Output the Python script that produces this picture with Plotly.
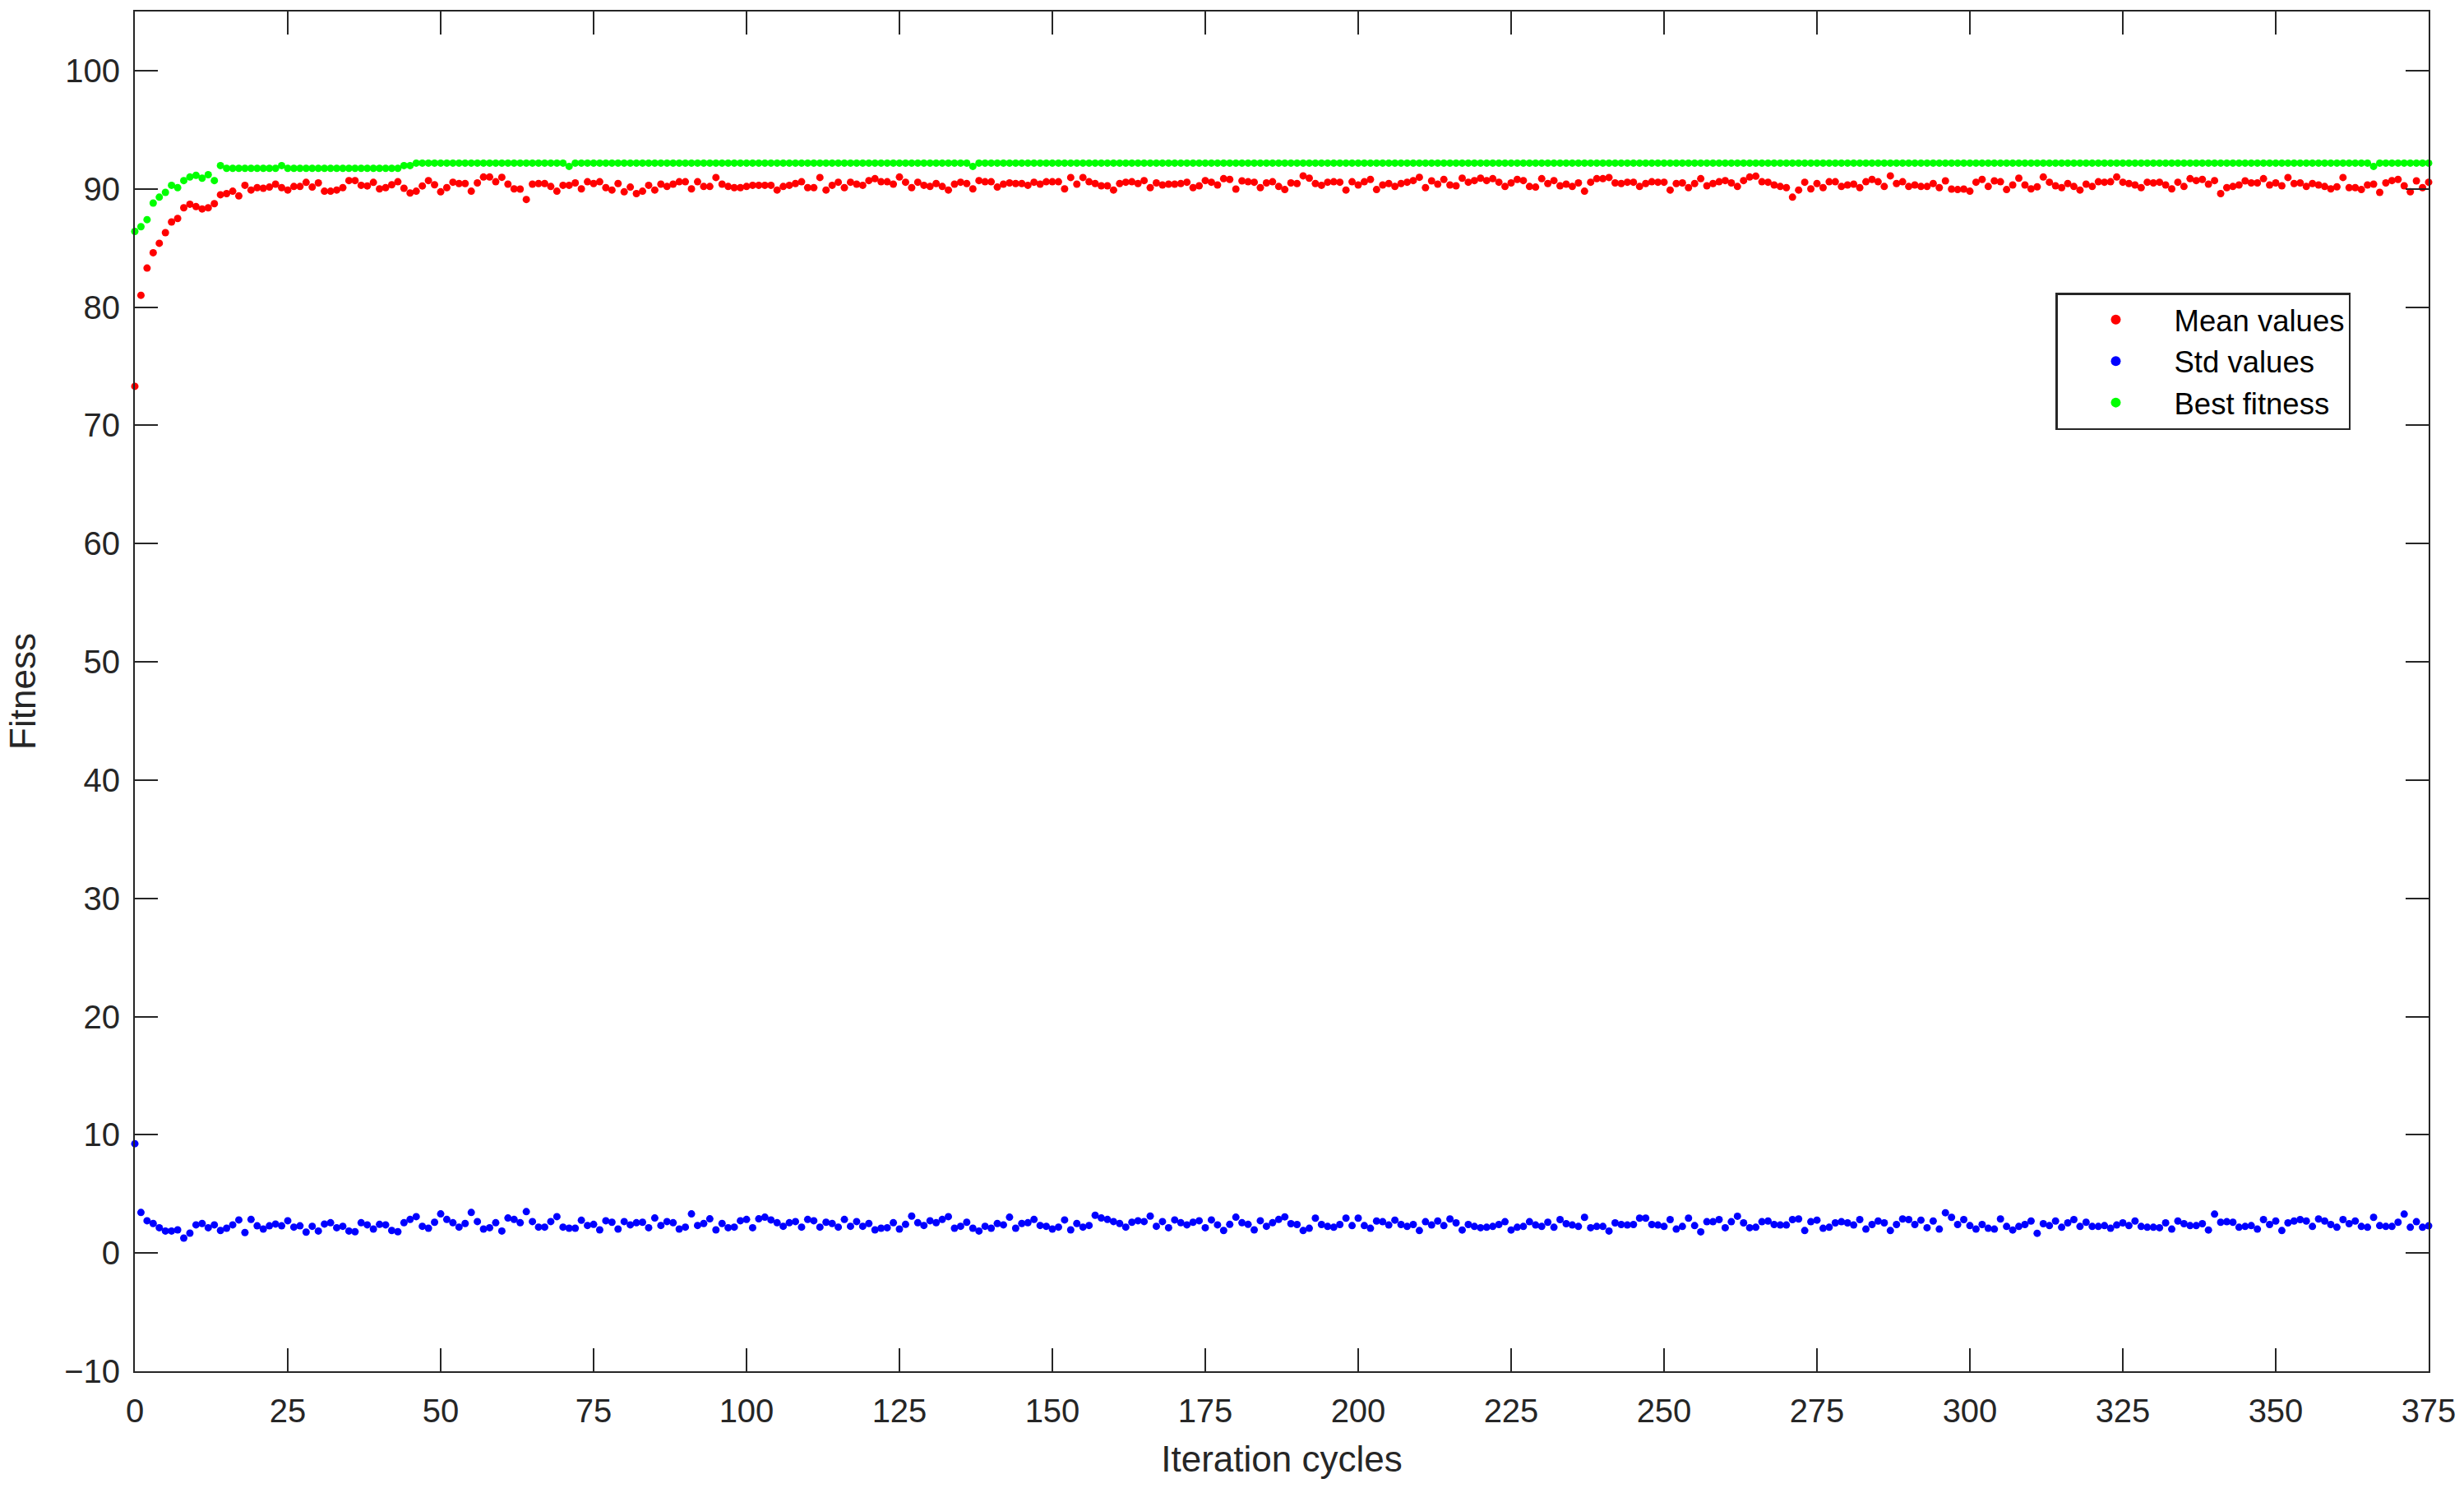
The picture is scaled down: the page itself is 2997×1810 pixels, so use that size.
import plotly.graph_objects as go

# ---------------- data ----------------
mean_values = [
    # 0-50
    73.3, 81.0, 83.3, 84.6, 85.4, 86.3, 87.2, 87.5, 88.4, 88.7,
    88.5, 88.3, 88.4, 88.75, 89.5, 89.6, 89.8, 89.4, 90.3, 89.9,
    90.1, 90.05, 90.15, 90.4, 90.1, 89.9, 90.2, 90.2, 90.55, 90.15,
    90.5, 89.8, 89.8, 89.9, 90.1, 90.7, 90.7, 90.3, 90.25, 90.55,
    90.0, 90.1, 90.35, 90.6, 90.05, 89.65, 89.8, 90.25, 90.7, 90.35,
    89.75,
    # 51-157
    90.1, 90.56, 90.45, 90.45, 89.8, 90.5, 91.0, 91.0, 90.6, 90.98,
    90.4, 90.0, 89.98, 89.1, 90.4, 90.45, 90.45, 90.2, 89.8, 90.3,
    90.3, 90.5, 90.0, 90.6, 90.45, 90.6, 90.1, 89.9, 90.45, 89.75,
    90.15, 89.6, 89.8, 90.3, 89.9, 90.4, 90.2, 90.4, 90.6, 90.6,
    90.0, 90.6, 90.2, 90.2, 90.96, 90.4, 90.2, 90.1, 90.1, 90.2,
    90.3, 90.3, 90.3, 90.3, 89.9, 90.2, 90.3, 90.45, 90.6, 90.1,
    90.1, 90.96, 89.9, 90.3, 90.56, 90.1, 90.56, 90.4, 90.3, 90.7,
    90.86, 90.6, 90.6, 90.4, 91.0, 90.56, 90.1, 90.56, 90.3, 90.2,
    90.45, 90.2, 89.9, 90.4, 90.56, 90.45, 90.0, 90.7, 90.6, 90.6,
    90.15, 90.4, 90.5, 90.45, 90.45, 90.3, 90.56, 90.4, 90.6, 90.6,
    90.6, 90.0, 90.96, 90.4, 90.96, 90.6, 90.45,
    # 158-266
    90.26, 90.26, 89.9, 90.45, 90.56, 90.6, 90.45, 90.7, 90.1, 90.5,
    90.33, 90.4, 90.4, 90.45, 90.56, 90.1, 90.26, 90.7, 90.56, 90.33,
    90.86, 90.8, 89.98, 90.68, 90.6, 90.56, 90.1, 90.5, 90.6, 90.2,
    89.94, 90.5, 90.45, 91.1, 90.9, 90.45, 90.3, 90.56, 90.6, 90.56,
    89.9, 90.6, 90.33, 90.6, 90.8, 89.94, 90.33, 90.45, 90.2, 90.45,
    90.56, 90.7, 90.98, 90.1, 90.68, 90.4, 90.8, 90.33, 90.26, 90.9,
    90.56, 90.7, 90.9, 90.7, 90.86, 90.56, 90.2, 90.5, 90.8, 90.7,
    90.2, 90.15, 90.86, 90.45, 90.7, 90.26, 90.4, 90.2, 90.5, 89.8,
    90.56, 90.86, 90.86, 90.96, 90.5, 90.45, 90.56, 90.56, 90.2, 90.45,
    90.6, 90.56, 90.56, 89.9, 90.45, 90.5, 90.1, 90.45, 90.86, 90.26,
    90.45, 90.6, 90.7, 90.5, 90.2, 90.7, 91.0, 91.07, 90.6,
    # 267-375
    90.56, 90.33, 90.2, 90.1, 89.3, 89.9, 90.56, 90.0, 90.45, 90.1,
    90.6, 90.6, 90.2, 90.33, 90.4, 90.1, 90.6, 90.8, 90.6, 90.2,
    91.1, 90.45, 90.6, 90.2, 90.33, 90.2, 90.2, 90.45, 90.1, 90.68,
    89.98, 89.94, 89.98, 89.8, 90.56, 90.8, 90.2, 90.68, 90.6, 89.94,
    90.33, 90.9, 90.33, 90.0, 90.17, 91.0, 90.56, 90.26, 90.1, 90.45,
    90.2, 89.9, 90.4, 90.2, 90.6, 90.56, 90.6, 91.0, 90.56, 90.45,
    90.33, 90.1, 90.56, 90.5, 90.56, 90.33, 90.0, 90.56, 90.2, 90.86,
    90.7, 90.8, 90.4, 90.7, 89.6, 90.1, 90.2, 90.33, 90.68, 90.5,
    90.5, 90.86, 90.33, 90.5, 90.26, 90.96, 90.45, 90.5, 90.2, 90.45,
    90.33, 90.2, 90.0, 90.17, 90.96, 90.1, 90.1, 89.94, 90.33, 90.4,
    89.7, 90.5, 90.7, 90.8, 90.26, 89.75, 90.68, 90.1, 90.56,
]

std_values = [
    # 0-187
    9.25, 3.43, 2.73, 2.5, 2.14, 1.86, 1.86, 1.96, 1.26, 1.68,
    2.38, 2.5, 2.14, 2.38, 1.91, 2.1, 2.38, 2.8, 1.73, 2.84,
    2.3, 2.03, 2.3, 2.45, 2.3, 2.73, 2.19, 2.3, 1.77, 2.26,
    1.86, 2.45, 2.56, 2.14, 2.26, 1.86, 1.8, 2.56, 2.38, 2.03,
    2.42, 2.38, 1.91, 1.8, 2.56, 2.84, 3.08, 2.26, 2.1, 2.6,
    3.31, 2.84, 2.56, 2.19, 2.5, 3.43, 2.66, 2.03, 2.14, 2.56,
    1.86, 2.96, 2.84, 2.56, 3.5, 2.66, 2.19, 2.19, 2.66, 3.08,
    2.19, 2.1, 2.1, 2.77, 2.33, 2.42, 1.96, 2.73, 2.6, 2.03,
    2.66, 2.38, 2.56, 2.6, 2.14, 2.96, 2.33, 2.66, 2.56, 2.03,
    2.19, 3.31, 2.33, 2.5, 2.89, 1.96, 2.5, 2.14, 2.19, 2.73,
    2.84, 2.14, 2.89, 3.03, 2.8, 2.56, 2.26, 2.56, 2.66, 2.19,
    2.84, 2.73, 2.19, 2.6, 2.5, 2.19, 2.84, 2.26, 2.66, 2.26,
    2.5, 1.96, 2.1, 2.14, 2.56, 2.03, 2.42, 3.12, 2.56, 2.33,
    2.73, 2.56, 2.84, 3.08, 2.1, 2.26, 2.6, 2.1, 1.86, 2.26,
    2.1, 2.5, 2.38, 3.03, 2.1, 2.5, 2.56, 2.84, 2.33, 2.26,
    2.03, 2.19, 2.8, 1.96, 2.5, 2.19, 2.33, 3.19, 2.96, 2.84,
    2.66, 2.5, 2.19, 2.6, 2.73, 2.66, 3.12, 2.26, 2.66, 2.14,
    2.8, 2.56, 2.38, 2.6, 2.73, 2.14, 2.8, 2.38, 1.91, 2.42,
    3.03, 2.56, 2.42, 1.96, 2.73, 2.26, 2.56, 2.84,
    # 188-375
    3.06, 2.48, 2.41, 1.9, 2.09, 2.95, 2.41, 2.25, 2.18, 2.41,
    2.95, 2.32, 2.95, 2.32, 2.09, 2.71, 2.65, 2.37, 2.78, 2.41,
    2.25, 2.41, 1.9, 2.65, 2.37, 2.71, 2.32, 2.88, 2.55, 1.95,
    2.41, 2.25, 2.14, 2.18, 2.25, 2.41, 2.65, 1.95, 2.18, 2.25,
    2.65, 2.37, 2.25, 2.6, 2.18, 2.83, 2.48, 2.37, 2.25, 3.02,
    2.14, 2.25, 2.25, 1.86, 2.55, 2.41, 2.37, 2.41, 2.95, 2.95,
    2.41, 2.37, 2.25, 2.83, 2.02, 2.25, 2.95, 2.32, 1.79, 2.65,
    2.65, 2.83, 2.14, 2.65, 3.11, 2.55, 2.14, 2.18, 2.65, 2.71,
    2.41, 2.37, 2.37, 2.83, 2.88, 1.9, 2.65, 2.78, 2.09, 2.18,
    2.55, 2.65, 2.55, 2.37, 2.83, 2.02, 2.41, 2.71, 2.55, 1.9,
    2.41, 2.88, 2.83, 2.41, 2.78, 2.14, 2.71, 2.02, 3.41, 3.02,
    2.41, 2.83, 2.32, 2.02, 2.41, 2.09, 2.02, 2.88, 2.25, 1.95,
    2.25, 2.41, 2.71, 1.67, 2.48, 2.32, 2.71, 2.18, 2.55, 2.83,
    2.25, 2.6, 2.25, 2.25, 2.32, 2.09, 2.37, 2.55, 2.32, 2.71,
    2.25, 2.18, 2.18, 2.14, 2.55, 2.02, 2.71, 2.48, 2.32, 2.32,
    2.48, 1.95, 3.29, 2.6, 2.65, 2.6, 2.18, 2.25, 2.32, 2.02,
    2.83, 2.41, 2.71, 1.9, 2.55, 2.71, 2.83, 2.71, 2.25, 2.88,
    2.71, 2.41, 2.18, 2.83, 2.48, 2.71, 2.25, 2.18, 3.02, 2.32,
    2.25, 2.25, 2.6, 3.29, 2.18, 2.65, 2.18, 2.3,
]

best_fitness = [
    # 0-49
    86.4, 86.8, 87.4, 88.8, 89.3, 89.7, 90.3, 90.1, 90.7, 91.0,
    91.15, 90.9, 91.2, 90.7, 91.97, 91.74, 91.74, 91.74, 91.74, 91.74,
    91.74, 91.74, 91.74, 91.74, 91.97, 91.74, 91.74, 91.74, 91.74, 91.74,
    91.74, 91.74, 91.74, 91.74, 91.74, 91.74, 91.74, 91.74, 91.74, 91.74,
    91.74, 91.74, 91.74, 91.74, 91.97, 91.97, 92.18, 92.18, 92.18, 92.18,
    # 50-99
    92.18, 92.18, 92.18, 92.18, 92.18, 92.18, 92.18, 92.18, 92.18, 92.18,
    92.18, 92.18, 92.18, 92.18, 92.18, 92.18, 92.18, 92.18, 92.18, 92.18,
    92.18, 91.9, 92.18, 92.18, 92.18, 92.18, 92.18, 92.18, 92.18, 92.18,
    92.18, 92.18, 92.18, 92.18, 92.18, 92.18, 92.18, 92.18, 92.18, 92.18,
    92.18, 92.18, 92.18, 92.18, 92.18, 92.18, 92.18, 92.18, 92.18, 92.18,
    # 100-149
    92.18, 92.18, 92.18, 92.18, 92.18, 92.18, 92.18, 92.18, 92.18, 92.18,
    92.18, 92.18, 92.18, 92.18, 92.18, 92.18, 92.18, 92.18, 92.18, 92.18,
    92.18, 92.18, 92.18, 92.18, 92.18, 92.18, 92.18, 92.18, 92.18, 92.18,
    92.18, 92.18, 92.18, 92.18, 92.18, 92.18, 92.18, 91.9, 92.18, 92.18,
    92.18, 92.18, 92.18, 92.18, 92.18, 92.18, 92.18, 92.18, 92.18, 92.18,
    # 150-199
    92.18, 92.18, 92.18, 92.18, 92.18, 92.18, 92.18, 92.18, 92.18, 92.18,
    92.18, 92.18, 92.18, 92.18, 92.18, 92.18, 92.18, 92.18, 92.18, 92.18,
    92.18, 92.18, 92.18, 92.18, 92.18, 92.18, 92.18, 92.18, 92.18, 92.18,
    92.18, 92.18, 92.18, 92.18, 92.18, 92.18, 92.18, 92.18, 92.18, 92.18,
    92.18, 92.18, 92.18, 92.18, 92.18, 92.18, 92.18, 92.18, 92.18, 92.18,
    # 200-249
    92.18, 92.18, 92.18, 92.18, 92.18, 92.18, 92.18, 92.18, 92.18, 92.18,
    92.18, 92.18, 92.18, 92.18, 92.18, 92.18, 92.18, 92.18, 92.18, 92.18,
    92.18, 92.18, 92.18, 92.18, 92.18, 92.18, 92.18, 92.18, 92.18, 92.18,
    92.18, 92.18, 92.18, 92.18, 92.18, 92.18, 92.18, 92.18, 92.18, 92.18,
    92.18, 92.18, 92.18, 92.18, 92.18, 92.18, 92.18, 92.18, 92.18, 92.18,
    # 250-299
    92.18, 92.18, 92.18, 92.18, 92.18, 92.18, 92.18, 92.18, 92.18, 92.18,
    92.18, 92.18, 92.18, 92.18, 92.18, 92.18, 92.18, 92.18, 92.18, 92.18,
    92.18, 92.18, 92.18, 92.18, 92.18, 92.18, 92.18, 92.18, 92.18, 92.18,
    92.18, 92.18, 92.18, 92.18, 92.18, 92.18, 92.18, 92.18, 92.18, 92.18,
    92.18, 92.18, 92.18, 92.18, 92.18, 92.18, 92.18, 92.18, 92.18, 92.18,
    # 300-349
    92.18, 92.18, 92.18, 92.18, 92.18, 92.18, 92.18, 92.18, 92.18, 92.18,
    92.18, 92.18, 92.18, 92.18, 92.18, 92.18, 92.18, 92.18, 92.18, 92.18,
    92.18, 92.18, 92.18, 92.18, 92.18, 92.18, 92.18, 92.18, 92.18, 92.18,
    92.18, 92.18, 92.18, 92.18, 92.18, 92.18, 92.18, 92.18, 92.18, 92.18,
    92.18, 92.18, 92.18, 92.18, 92.18, 92.18, 92.18, 92.18, 92.18, 92.18,
    # 350-375
    92.18, 92.18, 92.18, 92.18, 92.18, 92.18, 92.18, 92.18, 92.18, 92.18,
    92.18, 92.18, 92.18, 92.18, 92.18, 92.18, 91.9, 92.18, 92.18, 92.18,
    92.18, 92.18, 92.18, 92.18, 92.18, 92.18,
]

x_ticks = [0, 25, 50, 75, 100, 125, 150, 175, 200, 225, 250, 275, 300, 325, 350, 375]
y_ticks = [-10, 0, 10, 20, 30, 40, 50, 60, 70, 80, 90, 100]

series = [
    ("Mean values", mean_values, "#ff0000"),
    ("Std values", std_values, "#0000ff"),
    ("Best fitness", best_fitness, "#00ff00"),
]

# ---------------- figure ----------------
FONT = "Liberation Sans, Arial, Helvetica, sans-serif"
AXC = "#262626"
W, H = 2997, 1810
ML, MR, MT, MB = 164, 43, 14, 142
PW, PH = W - ML - MR, H - MT - MB

fig = go.Figure()
for name, vals, col in series:
    fig.add_trace(go.Scatter(
        x=list(range(len(vals))), y=vals, mode="markers", name=name,
        marker=dict(color=col, size=9, line=dict(width=0)),
        cliponaxis=False,
    ))

axis_common = dict(
    showgrid=False, zeroline=False, showline=True, linecolor=AXC, linewidth=2,
    mirror="ticks", ticks="inside", ticklen=28, tickwidth=2, tickcolor=AXC,
    tickfont=dict(family=FONT, size=40, color=AXC), automargin=False,
)

fig.update_xaxes(
    range=[0, 375], tickmode="array", tickvals=x_ticks,
    ticklabelstandoff=12,
    title=dict(text="Iteration cycles", font=dict(family=FONT, size=44, color=AXC), standoff=22),
    **axis_common,
)
fig.update_yaxes(
    range=[-10, 105], tickmode="array", tickvals=y_ticks,
    ticklabelstandoff=8,
    title=dict(text="Fitness", font=dict(family=FONT, size=44, color=AXC), standoff=21),
    **axis_common,
)

fig.update_layout(
    width=W, height=H,
    margin=dict(l=ML, r=MR, t=MT, b=MB, autoexpand=False),
    paper_bgcolor="white", plot_bgcolor="white",
    font=dict(family=FONT, color="#000000"),
    showlegend=True,
    legend=dict(
        x=(2500 - ML) / PW, y=(H - MB - 356) / PH, xref="paper", yref="paper",
        xanchor="left", yanchor="top",
        bgcolor="white", bordercolor=AXC, borderwidth=2.5,
        font=dict(family=FONT, size=36.5, color="#000000"),
        itemwidth=132, itemsizing="constant", tracegroupgap=0,
    ),
)

fig.write_html(
    "out.html",
    config={"displayModeBar": False},
    post_script="document.body.style.margin='0';",
)
